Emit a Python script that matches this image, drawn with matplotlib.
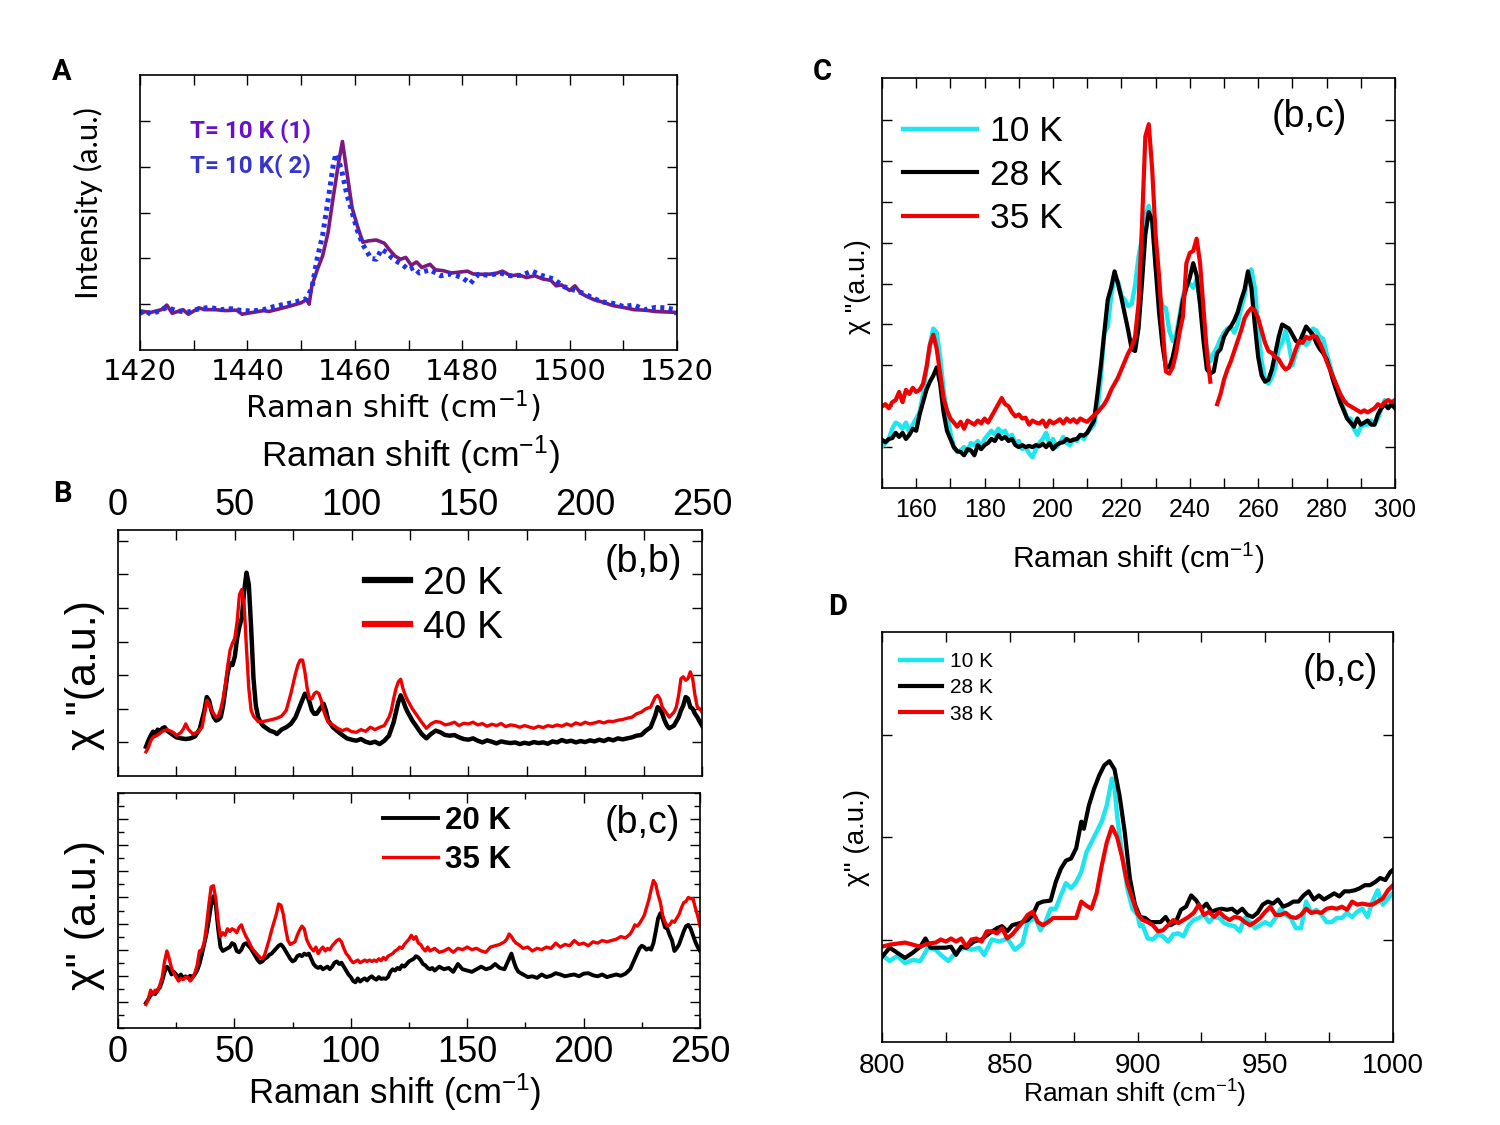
"""
Painel de espectros Raman (A-D): figura recriada com matplotlib.
"""

import numpy as np
import matplotlib.pyplot as plt
from matplotlib.ticker import MultipleLocator

# ---------------- dados ----------------
# A: modo em ~1458 cm-1, T = 10 K, duas medidas
a1_shift = [1420, 1422, 1424, 1425, 1426, 1428, 1429, 1431, 1432, 1434,
            1436, 1438, 1439, 1441, 1443, 1444, 1446, 1448, 1450, 1451,
            1451.5, 1452, 1453, 1454, 1455, 1456, 1457, 1457.7, 1458.5, 1459.5,
            1460.5, 1461.5, 1462.5, 1464, 1465.5, 1466.5, 1467.5, 1468.5, 1469.5, 1470.5,
            1471.5, 1472.5, 1474, 1475, 1476.5, 1478, 1479.5, 1481, 1482, 1484,
            1486, 1487.5, 1489, 1490.5, 1492, 1493.5, 1495, 1496.5, 1497.5, 1498.5,
            1500, 1501, 1502, 1503, 1504.5, 1506, 1508, 1510, 1512, 1514,
            1516, 1518, 1520]
a1_int = [0.85, 0.82, 0.88, 0.98, 0.80, 0.88, 0.78, 0.92, 0.88, 0.88,
          0.86, 0.87, 0.78, 0.82, 0.86, 0.84, 0.90, 0.96, 1.03, 1.10,
          1.00, 1.40, 1.75, 2.05, 2.55, 3.35, 4.10, 4.55, 3.90, 3.10,
          2.70, 2.35, 2.38, 2.40, 2.33, 2.18, 2.05, 1.98, 2.02, 1.85,
          1.92, 1.80, 1.87, 1.75, 1.73, 1.68, 1.70, 1.72, 1.66, 1.65,
          1.66, 1.72, 1.62, 1.64, 1.58, 1.62, 1.55, 1.52, 1.40, 1.42,
          1.30, 1.40, 1.25, 1.18, 1.10, 1.05, 0.97, 0.93, 0.88, 0.87,
          0.84, 0.83, 0.82]
a2_shift = [1420, 1421, 1422, 1423.5, 1425, 1427, 1429, 1431, 1433, 1435,
            1437, 1439, 1441, 1443, 1445, 1447, 1449, 1451, 1452, 1453,
            1454, 1455, 1456, 1456.5, 1457.5, 1458.5, 1459.5, 1460.5, 1461.5, 1463,
            1464, 1465, 1466, 1467, 1468, 1469, 1470, 1471, 1472, 1474,
            1476, 1478, 1480, 1481.5, 1483, 1485, 1487, 1489, 1491, 1493,
            1495, 1497, 1499, 1501, 1503, 1504, 1506, 1508, 1510, 1512,
            1514, 1516, 1518, 1519.5, 1520]
a2_int = [0.80, 0.86, 0.78, 0.85, 0.93, 0.85, 0.83, 0.90, 0.93, 0.88,
          0.90, 0.86, 0.85, 0.88, 0.95, 1.00, 1.05, 1.12, 1.35, 2.00,
          2.50, 3.25, 4.05, 4.28, 3.95, 3.40, 3.00, 2.60, 2.30, 2.00,
          1.98, 2.20, 2.12, 2.00, 1.92, 1.85, 1.75, 1.80, 1.68, 1.75,
          1.62, 1.66, 1.58, 1.45, 1.65, 1.63, 1.68, 1.62, 1.63, 1.72,
          1.62, 1.55, 1.38, 1.30, 1.22, 1.15, 1.05, 1.02, 0.95, 0.98,
          0.88, 0.93, 0.92, 0.88, 0.78]

# B superior: (b,b), 20 K e 40 K
bb20_shift = (list(range(12, 22)) + [23, 25, 27, 29, 31, 33, 35]
              + list(range(37, 64)) + [65, 67, 68, 70, 72, 74, 76, 78, 80]
              + list(range(81, 91)) + list(range(92, 117, 2))
              + list(range(117, 125)) + list(range(126, 229, 2))
              + list(range(230, 237)) + [238] + list(range(240, 251)))
bb20_chi = [0.87, 1.05, 1.20, 1.32, 1.25, 1.38, 1.30, 1.42, 1.45, 1.35,
            1.25, 1.15, 1.12, 1.10, 1.12, 1.18, 1.40,
            1.95, 2.35, 2.25, 1.95, 1.75, 1.65, 1.68, 1.75, 2.10, 2.60,
            3.10, 3.35, 3.30, 3.55, 4.10, 4.45, 4.70, 5.50, 6.05, 5.70,
            4.40, 2.90, 2.10, 1.75, 1.60, 1.50, 1.45,
            1.35, 1.30, 1.25, 1.38, 1.45, 1.55, 1.75, 2.10, 2.45,
            2.40, 2.20, 1.95, 1.85, 1.85, 1.95, 2.05, 2.15, 1.95, 1.65,
            1.45, 1.33, 1.22, 1.12, 1.08, 1.05, 1.10, 1.02, 0.98, 1.02, 0.95, 1.05, 1.20,
            1.40, 1.60, 1.90, 2.20, 2.40, 2.25, 2.05, 1.90,
            1.65, 1.45, 1.25, 1.12, 1.25, 1.35, 1.30, 1.22, 1.20, 1.22, 1.15, 1.10, 1.08,
            1.12, 1.05, 1.00, 1.06, 1.02, 0.97, 1.03, 1.00, 0.98, 1.00, 0.95, 0.99, 0.96,
            1.01, 0.98, 1.00, 0.96, 1.03, 1.00, 1.07, 1.02, 1.05, 1.00, 1.04, 1.01,
            1.06, 1.03, 1.08, 1.04, 1.10, 1.06, 1.12, 1.09, 1.12, 1.15, 1.20, 1.22, 1.35, 1.45,
            1.80, 2.05, 2.00, 1.85, 1.65, 1.50, 1.42,
            1.50,
            1.75, 1.95, 2.10, 2.35, 2.30, 2.05, 2.00, 1.85, 1.75, 1.62, 1.50]
bb40_shift = ([12, 13, 14, 15, 17, 19, 21, 23, 24, 25, 26, 27, 28, 29, 30, 32, 34, 36]
              + list(range(37, 59)) + [60, 62, 64, 66, 68, 70, 72, 74]
              + list(range(75, 91)) + list(range(92, 117, 2))
              + list(range(117, 125)) + list(range(126, 229, 2))
              + [229, 230, 231, 232, 233, 234, 236] + list(range(238, 251)))
bb40_chi = [0.72, 0.85, 1.05, 1.15, 1.22, 1.33, 1.38, 1.32, 1.28, 1.20,
            1.25, 1.30, 1.40, 1.55, 1.40, 1.25, 1.30, 1.45,
            1.85, 2.25, 2.15, 1.95, 1.85, 1.75, 1.80, 2.00, 2.30, 2.75, 3.30,
            3.75, 3.95, 4.10, 4.60, 5.40, 5.55, 5.10, 3.80, 2.60, 1.95, 1.78,
            1.62, 1.62, 1.65, 1.68, 1.72, 1.78, 1.95, 2.45,
            2.75, 3.05, 3.30, 3.45, 3.45, 3.10, 2.60, 2.30, 2.30, 2.45, 2.50,
            2.45, 2.25, 1.95, 1.75, 1.60,
            1.52, 1.42, 1.35, 1.40, 1.32, 1.30, 1.38, 1.33, 1.45, 1.38, 1.45, 1.50, 1.75,
            1.95, 2.30, 2.60, 2.80, 2.88, 2.60, 2.40, 2.25,
            2.00, 1.80, 1.60, 1.42, 1.55, 1.62, 1.60, 1.52, 1.55, 1.60, 1.50, 1.57, 1.55,
            1.60, 1.52, 1.56, 1.48, 1.54, 1.50, 1.56, 1.47, 1.52, 1.50, 1.45, 1.50, 1.46,
            1.42, 1.48, 1.44, 1.50, 1.47, 1.52, 1.48, 1.55, 1.50, 1.58, 1.53, 1.60,
            1.55, 1.58, 1.62, 1.58, 1.63, 1.62, 1.66, 1.68, 1.72, 1.75, 1.85, 1.90, 2.00, 2.05,
            2.20, 2.35, 2.40, 2.30, 2.05, 1.95, 1.75,
            1.90, 2.05, 2.40, 2.90, 2.95, 2.85, 2.90, 3.10, 2.90, 2.40, 2.05, 2.00, 1.90]

# B inferior: (b,c), 20 K e 35 K
bc_shift = (list(range(12, 137)) + list(range(138, 167, 2))
            + list(range(167, 173)) + list(range(174, 221, 2))
            + list(range(221, 251)))
bc20_chi = [0.96, 1.10, 1.25, 1.35, 1.30, 1.45, 1.55, 1.80, 2.15, 2.35,
            2.25, 2.05, 2.15, 2.05, 1.95, 2.05, 1.90, 1.98, 1.92, 2.00,
            1.95, 2.05, 2.20, 2.45, 2.80, 3.20, 3.60, 4.10, 4.70, 5.05,
            4.70, 3.80, 3.10, 2.95, 3.00, 3.05, 3.10, 3.25, 3.20, 2.95,
            2.90, 3.00, 3.20, 3.25, 3.15, 3.05, 2.90, 2.75, 2.60, 2.50,
            2.55, 2.65, 2.70, 2.80, 2.85, 2.95, 3.05, 3.15, 3.20, 3.10,
            2.95, 2.80, 2.65, 2.55, 2.60, 2.75, 2.80, 2.75, 2.85, 2.80,
            2.85, 2.65, 2.45, 2.35, 2.30, 2.35, 2.25, 2.30, 2.35, 2.25,
            2.35, 2.50, 2.55, 2.45, 2.50, 2.35, 2.20, 2.05, 1.95, 1.80,
            1.75, 1.90, 1.78, 1.85, 1.90, 1.82, 1.92, 1.98, 1.90, 1.85,
            1.95, 1.88, 1.90, 1.88, 1.95, 2.15, 2.25, 2.20, 2.30, 2.25,
            2.40, 2.35, 2.45, 2.55, 2.60, 2.65, 2.75, 2.70, 2.60, 2.45,
            2.40, 2.30, 2.25, 2.30, 2.20,
            2.35, 2.25, 2.30, 2.15, 2.45, 2.25, 2.20, 2.15, 2.25, 2.35,
            2.25, 2.30, 2.45, 2.30, 2.25,
            2.45, 2.65, 2.85, 2.55, 2.30, 2.15,
            2.05, 1.95, 1.98, 1.92, 2.05, 1.95, 2.00, 2.10, 2.05, 1.98,
            2.02, 2.05, 1.98, 2.08, 2.10, 2.02, 1.98, 2.05, 1.95, 2.00,
            2.05, 2.00, 2.08, 2.25,
            2.45, 2.65, 2.85, 3.05, 3.15, 3.10, 3.00, 3.05,
            3.00, 3.25, 3.70, 4.20, 4.40, 4.15, 3.85, 3.80, 3.55, 3.35,
            2.95, 3.05, 3.20, 3.45, 3.70, 3.90, 3.95, 3.80, 3.55, 3.30,
            3.10, 2.95]
bc35_chi = [0.90, 1.10, 1.45, 1.30, 1.45, 1.40, 1.65, 1.95, 2.55, 2.95,
            2.65, 2.30, 2.10, 1.95, 1.80, 1.90, 1.85, 1.95, 1.95, 1.80,
            1.90, 2.10, 2.40, 2.95, 3.00, 3.25, 3.90, 4.70, 5.40, 5.45,
            4.95, 4.10, 3.50, 3.65, 3.55, 3.80, 3.70, 3.80, 3.75, 3.65,
            3.85, 3.95, 3.70, 3.50, 3.35, 3.15, 3.00, 2.90, 2.80, 2.70,
            2.65, 2.80, 3.10, 3.40, 3.75, 4.05, 4.35, 4.75, 4.70, 4.35,
            3.80, 3.35, 3.20, 3.25, 3.30, 3.55, 3.75, 3.90, 3.80, 3.40,
            3.20, 3.05, 2.95, 3.10, 2.85, 3.00, 3.10, 2.95, 3.05, 3.00,
            3.15, 3.25, 3.35, 3.40, 3.30, 3.05, 2.85, 2.75, 2.60, 2.50,
            2.55, 2.60, 2.50, 2.55, 2.60, 2.55, 2.60, 2.55, 2.60, 2.55,
            2.65, 2.58, 2.70, 2.62, 2.75, 2.80, 2.85, 2.95, 3.00, 3.10,
            3.05, 3.20, 3.30, 3.40, 3.55, 3.40, 3.50, 3.25, 3.20, 3.05,
            2.95, 3.10, 2.95, 3.00, 3.05,
            2.90, 2.95, 3.05, 2.90, 3.05, 3.00, 3.10, 3.00, 3.05, 2.95,
            2.90, 3.10, 3.15, 3.20, 3.30,
            3.40, 3.60, 3.50, 3.35, 3.25, 3.20,
            3.05, 3.10, 2.95, 3.05, 3.00, 3.10, 3.05, 3.25, 3.10, 3.20,
            3.15, 3.35, 3.20, 3.25, 3.15, 3.30, 3.25, 3.35, 3.30, 3.35,
            3.40, 3.50, 3.45, 3.60,
            3.75, 3.95, 3.90, 4.00, 4.15, 4.30, 4.60, 4.90, 5.30, 5.65,
            5.50, 5.10, 4.80, 4.30, 4.05, 3.90, 3.95, 4.10, 4.05, 4.20,
            4.35, 4.60, 4.80, 4.85, 5.00, 4.95, 4.95, 4.60, 4.30, 3.90]

# C: (b,c), 150-300 cm-1
c_shift = list(range(150, 301))
c10_chi = [1.02, 1.10, 1.20, 1.45, 1.60, 1.55, 1.45, 1.60, 1.35, 1.55,
           1.70, 1.85, 2.30, 2.90, 3.50, 3.90, 3.80, 3.20, 2.40, 1.80,
           1.35, 1.00, 0.88, 0.92, 1.00, 0.90, 1.10, 1.05, 1.15, 1.00,
           1.20, 1.30, 1.40, 1.30, 1.45, 1.35, 1.40, 1.20, 1.30, 1.10,
           1.15, 0.95, 1.00, 0.85, 0.75, 0.95, 1.10, 1.20, 1.35, 1.05,
           1.20, 1.00, 1.10, 1.25, 1.10, 1.05, 1.20, 1.15, 1.30, 1.20,
           1.35, 1.45, 1.55, 1.95, 2.70, 3.80, 3.95, 4.70, 5.15, 5.05,
           4.70, 4.60, 4.45, 4.50, 4.95, 5.65, 6.10, 6.70, 6.90, 6.50,
           5.45, 4.70, 4.45, 4.40, 3.85, 3.60, 3.75, 4.20, 4.70, 4.95,
           5.00, 4.90, 5.10, 4.55, 3.90, 3.40, 3.10, 3.30, 3.45, 3.65,
           3.80, 3.90, 3.95, 3.80, 4.00, 4.40, 4.70, 5.20, 5.35, 4.90,
           3.90, 3.10, 2.65, 2.55, 2.70, 2.95, 3.40, 3.55, 3.85, 3.50,
           3.00, 3.30, 3.50, 3.75, 3.50, 3.60, 3.90, 3.85, 3.70, 3.65,
           3.30, 3.00, 2.70, 2.40, 2.15, 1.95, 1.70, 1.70, 1.45, 1.30,
           1.50, 1.55, 1.55, 1.65, 1.55, 1.70, 1.95, 2.15, 2.05, 2.10,
           2.05]
c28_chi = [1.18, 1.12, 1.20, 1.22, 1.35, 1.25, 1.35, 1.20, 1.30, 1.45,
           1.40, 1.80, 2.10, 2.40, 2.60, 2.75, 2.95, 2.55, 1.85, 1.40,
           1.20, 1.00, 0.90, 0.88, 0.80, 0.95, 0.92, 0.80, 1.05, 0.95,
           1.05, 1.10, 1.20, 1.15, 1.30, 1.20, 1.25, 1.15, 1.20, 1.05,
           1.00, 1.05, 1.00, 1.03, 1.00, 1.05, 1.02, 1.08, 1.00, 1.10,
           0.95, 1.05, 1.10, 1.12, 1.20, 1.15, 1.18, 1.20, 1.30, 1.28,
           1.35, 1.50, 1.65, 2.30, 3.00, 3.80, 4.60, 4.90, 5.30, 5.00,
           4.65, 4.25, 3.85, 3.40, 3.35, 3.90, 5.00, 6.20, 6.75, 6.55,
           5.40, 4.30, 3.50, 2.95, 2.95, 3.20, 3.60, 4.10, 4.60, 4.90,
           5.15, 5.50, 5.20, 4.50, 3.60, 2.90, 2.80, 2.85, 3.30, 3.40,
           3.70, 3.85, 3.95, 4.10, 4.30, 4.60, 4.85, 5.30, 4.90, 4.00,
           3.20, 2.75, 2.60, 2.65, 2.90, 3.30, 3.70, 4.00, 3.95, 3.90,
           3.75, 3.60, 3.55, 3.75, 3.95, 3.85, 3.75, 3.55, 3.40, 3.30,
           3.15, 2.90, 2.60, 2.35, 2.10, 1.90, 1.70, 1.60, 1.50, 1.70,
           1.55, 1.60, 1.65, 1.55, 1.55, 1.80, 1.95, 2.05, 1.95, 2.05,
           1.95]
c35_chi = [2.00, 2.05, 1.95, 2.10, 2.15, 2.35, 2.10, 2.40, 2.30, 2.45,
           2.35, 2.40, 2.55, 2.95, 3.50, 3.75, 3.40, 2.80, 2.20, 1.90,
           1.70, 1.60, 1.50, 1.62, 1.45, 1.65, 1.60, 1.55, 1.65, 1.58,
           1.70, 1.60, 1.75, 1.90, 2.05, 2.20, 2.05, 2.00, 1.85, 1.75,
           1.80, 1.70, 1.72, 1.55, 1.65, 1.60, 1.58, 1.65, 1.50, 1.65,
           1.58, 1.62, 1.68, 1.58, 1.70, 1.62, 1.68, 1.60, 1.70, 1.65,
           1.62, 1.70, 1.78, 1.85, 1.95, 2.05, 2.20, 2.40, 2.55, 2.70,
           2.90, 3.10, 3.30, 3.45, 3.70, 4.50, 6.40, 8.60, 8.90, 7.80,
           6.20, 5.20, 4.00, 2.85, 2.80, 2.95, 3.30, 3.80, 4.20, 5.50,
           5.75, 5.80, 6.10, 5.50, 4.40, 3.30, 2.60, np.nan, 2.05, 2.30,
           2.65, 2.90, 3.10, 3.35, 3.60, 3.85, 4.15, 4.30, 4.40, 4.35,
           4.15, 3.85, 3.55, 3.35, 3.30, 3.20, 3.15, 3.00, 2.90, 2.95,
           3.15, 3.40, 3.60, 3.55, 3.70, 3.65, 3.72, 3.70, 3.55, 3.35,
           3.10, 2.90, 2.70, 2.50, 2.30, 2.15, 2.05, 2.00, 1.95, 1.90,
           1.85, 1.90, 1.85, 1.90, 1.95, 2.05, 2.00, 2.10, 2.15, 2.10,
           2.15]

# D: (b,c), 800-1000 cm-1
d10_shift = ([800, 803, 806, 809, 812, 815, 818, 821, 823, 826,
              829, 832, 835, 838, 840, 843, 846, 849, 852, 855,
              857, 860, 862, 864, 866, 868, 870, 872, 874, 876,
              878, 880, 882, 884, 886, 888, 890, 891, 892, 894,
              896, 898, 900, 901, 902, 904] + list(range(906, 1001, 2)))
d10_chi = [0.85, 0.79, 0.84, 0.77, 0.80, 0.79, 0.92, 0.90, 0.85, 0.79,
           0.88, 0.92, 0.90, 0.92, 0.85, 1.00, 0.98, 1.01, 0.90, 0.96,
           1.17, 1.21, 1.09, 1.17, 1.30, 1.30, 1.43, 1.55, 1.50, 1.56,
           1.66, 1.85, 1.95, 2.05, 2.15, 2.31, 2.57, 2.50, 2.21, 1.82,
           1.50, 1.30, 1.24, 1.13, 1.14, 1.01,
           1.00, 1.05, 1.03, 0.98, 1.05, 1.06, 1.03, 1.14, 1.19, 1.21,
           1.24, 1.17, 1.22, 1.21, 1.16, 1.14, 1.13, 1.08, 1.21, 1.17,
           1.11, 1.14, 1.17, 1.14, 1.21, 1.30, 1.24, 1.21, 1.11, 1.11,
           1.37, 1.26, 1.29, 1.24, 1.17, 1.17, 1.21, 1.21, 1.26, 1.22,
           1.27, 1.30, 1.22, 1.37, 1.48, 1.34, 1.40, 1.45]
d28_shift = ([800, 803, 806, 809, 812, 815, 817, 819, 822, 825,
              827, 829, 831, 833, 836, 839, 842, 845, 847, 849,
              851, 854, 857, 859, 861, 863, 866, 868, 870, 872,
              874, 876, 878, 879, 881, 883, 885, 887, 889, 891,
              893, 895, 897, 899, 901] + list(range(903, 1000, 2)) + [1000])
d28_chi = [0.83, 0.92, 0.87, 0.82, 0.87, 0.93, 1.01, 0.92, 0.92, 0.92,
           0.93, 0.85, 0.93, 0.92, 0.98, 1.00, 1.06, 1.11, 1.13, 1.08,
           1.14, 1.16, 1.19, 1.24, 1.35, 1.37, 1.38, 1.56, 1.69, 1.77,
           1.79, 1.89, 2.15, 2.08, 2.31, 2.47, 2.60, 2.70, 2.74, 2.66,
           2.40, 2.05, 1.60, 1.34, 1.22,
           1.21, 1.17, 1.17, 1.17, 1.22, 1.14, 1.17, 1.29, 1.32, 1.43,
           1.38, 1.30, 1.35, 1.27, 1.29, 1.30, 1.29, 1.30, 1.26, 1.30,
           1.24, 1.22, 1.26, 1.34, 1.37, 1.35, 1.39, 1.32, 1.34, 1.37,
           1.37, 1.43, 1.47, 1.39, 1.43, 1.39, 1.42, 1.45, 1.42, 1.47,
           1.47, 1.48, 1.50, 1.53, 1.53, 1.56, 1.60, 1.58, 1.66,
           1.68]
d38_shift = ([800, 803, 806, 809, 812, 815, 818, 821]
             + list(range(823, 876, 2)) + list(range(876, 1001, 2)))
d38_chi = [0.93, 0.95, 0.96, 0.97, 0.95, 0.93, 0.96, 0.97,
           1.00, 0.98, 1.01, 0.98, 1.01, 0.93, 1.00, 1.01, 0.98, 1.08,
           1.08, 1.06, 1.11, 1.01, 1.05, 1.11, 1.17, 1.24, 1.27, 1.17,
           1.14, 1.17, 1.21, 1.21, 1.21, 1.21, 1.21,
           1.21, 1.37, 1.33, 1.30, 1.45, 1.72, 1.95, 2.10, 2.00, 1.80,
           1.55, 1.40, 1.25, 1.19, 1.17, 1.14, 1.08, 1.09, 1.14, 1.19,
           1.16, 1.19, 1.22, 1.26, 1.34, 1.24, 1.27, 1.22, 1.27, 1.22,
           1.19, 1.22, 1.21, 1.17, 1.14, 1.17, 1.21, 1.27, 1.32, 1.24,
           1.24, 1.26, 1.22, 1.21, 1.24, 1.30, 1.26, 1.27, 1.26, 1.30,
           1.31, 1.30, 1.32, 1.29, 1.37, 1.34, 1.35, 1.34, 1.34, 1.37,
           1.40, 1.48, 1.53]

# ---------------- estilo ----------------
W, H = 1500, 1125
PRETO = "black"
VERMELHO = "#f00000"
CIANO = "#1ee6ee"
ROXO = "#7b1a7c"
AZUL = "#1e32ee"

plt.rcParams["font.family"] = ["Liberation Sans", "DejaVu Sans"]
plt.rcParams["mathtext.default"] = "regular"


def caixa(esq, topo, dir_, base):
    """retângulo em pixels -> fração da figura"""
    return [esq / W, 1 - base / H, (dir_ - esq) / W, (base - topo) / H]


def px(x, y):
    return x / W, 1 - y / H


def ticks_dentro(ax, tam=7):
    ax.tick_params(which="both", direction="in", top=True, right=True,
                   length=tam, width=1)
    for s in ax.spines.values():
        s.set_linewidth(1.2)


fig = plt.figure(figsize=(15, 11.25), dpi=100)

# ---------------- A ----------------
axA = fig.add_axes(caixa(140, 75, 677, 350))
axA.plot(a1_shift, a1_int, color=ROXO, lw=2.6)
axA.plot(a2_shift, a2_int, color=AZUL, lw=3.6, ls=(0, (0.8, 0.9)))
axA.set_xlim(1420, 1520)
axA.set_ylim(0, 6)
axA.set_yticks([1, 2, 3, 4, 5])
axA.set_yticklabels([])
axA.xaxis.set_minor_locator(MultipleLocator(10))
axA.set_xticks([1420, 1440, 1460, 1480, 1500, 1520])
axA.set_xticklabels(["1420", "1440", "1460", "1480", "1500", "1520"],
                    fontfamily="DejaVu Sans", fontsize=21)
ticks_dentro(axA)
axA.tick_params(axis="x", pad=6)
fig.text(*px(393, 407), "Raman shift $\\mathregular{(cm^{-1})}$",
         family="DejaVu Sans", fontsize=22, ha="center", va="center")
fig.text(*px(88, 203), "Intensity (a.u.)", family=["Lato", "DejaVu Sans"],
         fontsize=22.5, rotation=90, ha="center", va="center")
axA.text(0.093, 0.796, "T= 10 K (1)", transform=axA.transAxes, color="#6a10c8",
         family=["Roboto", "DejaVu Sans"], fontweight="bold", fontsize=17.5,
         va="center")
axA.text(0.093, 0.669, "T= 10 K( 2)", transform=axA.transAxes, color="#3535cc",
         family=["Roboto", "DejaVu Sans"], fontweight="bold", fontsize=17.5,
         va="center")

# ---------------- B superior ----------------
axBb = fig.add_axes(caixa(118, 530, 702, 776))
axBb.plot(bb20_shift, bb20_chi, color=PRETO, lw=3.2, label="20 K")
axBb.plot(bb40_shift, bb40_chi, color=VERMELHO, lw=2.4, label="40 K")
axBb.set_xlim(0, 250)
axBb.set_ylim(0, 7.32)
axBb.set_yticks(range(1, 8))
axBb.set_yticklabels([])
axBb.xaxis.set_major_locator(MultipleLocator(50))
axBb.xaxis.set_minor_locator(MultipleLocator(25))
ticks_dentro(axBb)
axBb.tick_params(labeltop=True, labelbottom=False, labelsize=26, pad=5)
leg = axBb.legend(loc="upper left", bbox_to_anchor=px(365, 566),
                  bbox_transform=fig.transFigure, frameon=False, fontsize=28,
                  handlelength=1.15, handletextpad=0.35, labelspacing=0.2,
                  borderpad=0, borderaxespad=0)
for ln in leg.get_lines():
    ln.set_linewidth(4.5)
fig.text(*px(682, 562), "(b,b)", fontsize=27, ha="right", va="center")
fig.text(*px(410, 455), "Raman shift (cm$^{-1}$)", fontsize=25.5,
         ha="center", va="center")
fig.text(*px(85, 675), "\u03c7 \"(a.u.)", fontsize=31, rotation=90,
         ha="center", va="center")

# ---------------- B inferior ----------------
axBc = fig.add_axes(caixa(118, 793, 700, 1028))
axBc.plot(bc_shift, bc20_chi, color=PRETO, lw=2.8, label="20 K")
axBc.plot(bc_shift, bc35_chi, color=VERMELHO, lw=2.4, label="35 K")
axBc.set_xlim(0, 250)
axBc.set_ylim(0, 9)
axBc.set_yticks(range(1, 9))
axBc.set_yticklabels([])
axBc.yaxis.set_minor_locator(MultipleLocator(0.5))
axBc.xaxis.set_major_locator(MultipleLocator(50))
axBc.xaxis.set_minor_locator(MultipleLocator(25))
ticks_dentro(axBc)
axBc.tick_params(which="minor", length=4)
axBc.tick_params(labelsize=26, pad=5)
leg = axBc.legend(loc="upper left", bbox_to_anchor=px(383, 806),
                  bbox_transform=fig.transFigure, frameon=False, fontsize=22.5,
                  handlelength=1.75, handletextpad=0.22, labelspacing=0.3,
                  borderpad=0, borderaxespad=0)
for t in leg.get_texts():
    t.set_fontweight("bold")
fig.text(*px(680, 823), "(b,c)", fontsize=27, ha="right", va="center")
fig.text(*px(395, 1092), "Raman shift (cm$^{-1}$)", fontsize=25,
         ha="center", va="center")
fig.text(*px(85, 915), "\u03c7\" (a.u.)", fontsize=31, rotation=90,
         ha="center", va="center")

# ---------------- C ----------------
axC = fig.add_axes(caixa(882, 78, 1395, 488))
axC.plot(c_shift, c10_chi, color=CIANO, lw=3.2, label="10 K")
axC.plot(c_shift, c28_chi, color=PRETO, lw=3.0, label="28 K")
axC.plot(c_shift, c35_chi, color=VERMELHO, lw=3.0, label="35 K")
axC.set_xlim(150, 300)
axC.set_ylim(0, 10.03)
axC.set_yticks(range(1, 10))
axC.set_yticklabels([])
axC.xaxis.set_major_locator(MultipleLocator(20))
axC.xaxis.set_minor_locator(MultipleLocator(10))
ticks_dentro(axC)
axC.tick_params(labelsize=18, pad=7)
axC.legend(loc="upper left", bbox_to_anchor=px(903, 115),
           bbox_transform=fig.transFigure, frameon=False, fontsize=25.5,
           handlelength=2.1, handletextpad=0.35, labelspacing=0.3,
           borderpad=0, borderaxespad=0)
fig.text(*px(1347, 117), "(b,c)", fontsize=27, ha="right", va="center")
fig.text(*px(1138, 558), "Raman shift (cm$^{-1}$)", fontsize=21.5,
         ha="center", va="center")
fig.text(*px(858, 287), "\u03c7 \"(a.u.)", fontsize=19.5, rotation=90,
         ha="center", va="center")

# ---------------- D ----------------
axD = fig.add_axes(caixa(882, 632, 1393, 1042))
axD.plot(d10_shift, d10_chi, color=CIANO, lw=3.2, label="10 K")
axD.plot(d28_shift, d28_chi, color=PRETO, lw=3.0, label="28 K")
axD.plot(d38_shift, d38_chi, color=VERMELHO, lw=3.0, label="38 K")
axD.set_xlim(800, 1000)
axD.set_ylim(0, 4)
axD.set_yticks([1, 2, 3])
axD.set_yticklabels([])
axD.xaxis.set_major_locator(MultipleLocator(50))
axD.xaxis.set_minor_locator(MultipleLocator(25))
ticks_dentro(axD)
axD.tick_params(labelsize=20, pad=8)
axD.legend(loc="upper left", bbox_to_anchor=px(900, 652),
           bbox_transform=fig.transFigure, frameon=False, fontsize=15,
           handlelength=2.0, handletextpad=0.4, labelspacing=0.35,
           borderpad=0, borderaxespad=0)
fig.text(*px(1378, 671), "(b,c)", fontsize=27, ha="right", va="center")
fig.text(*px(1135, 1094), "Raman shift (cm$^{-1}$)", fontsize=19,
         ha="center", va="center")
fig.text(*px(857, 837), "\u03c7\" (a.u.)", fontsize=20, rotation=90,
         ha="center", va="center")

# letras dos painéis
for letra, (x, y) in {"A": (62, 72), "B": (62, 494), "C": (822, 72),
                      "D": (838, 607)}.items():
    fig.text(*px(x, y), letra, fontsize=21, fontweight="bold",
             family=["Roboto", "DejaVu Sans"], ha="center", va="center")

fig.savefig("out.png", dpi=100)
